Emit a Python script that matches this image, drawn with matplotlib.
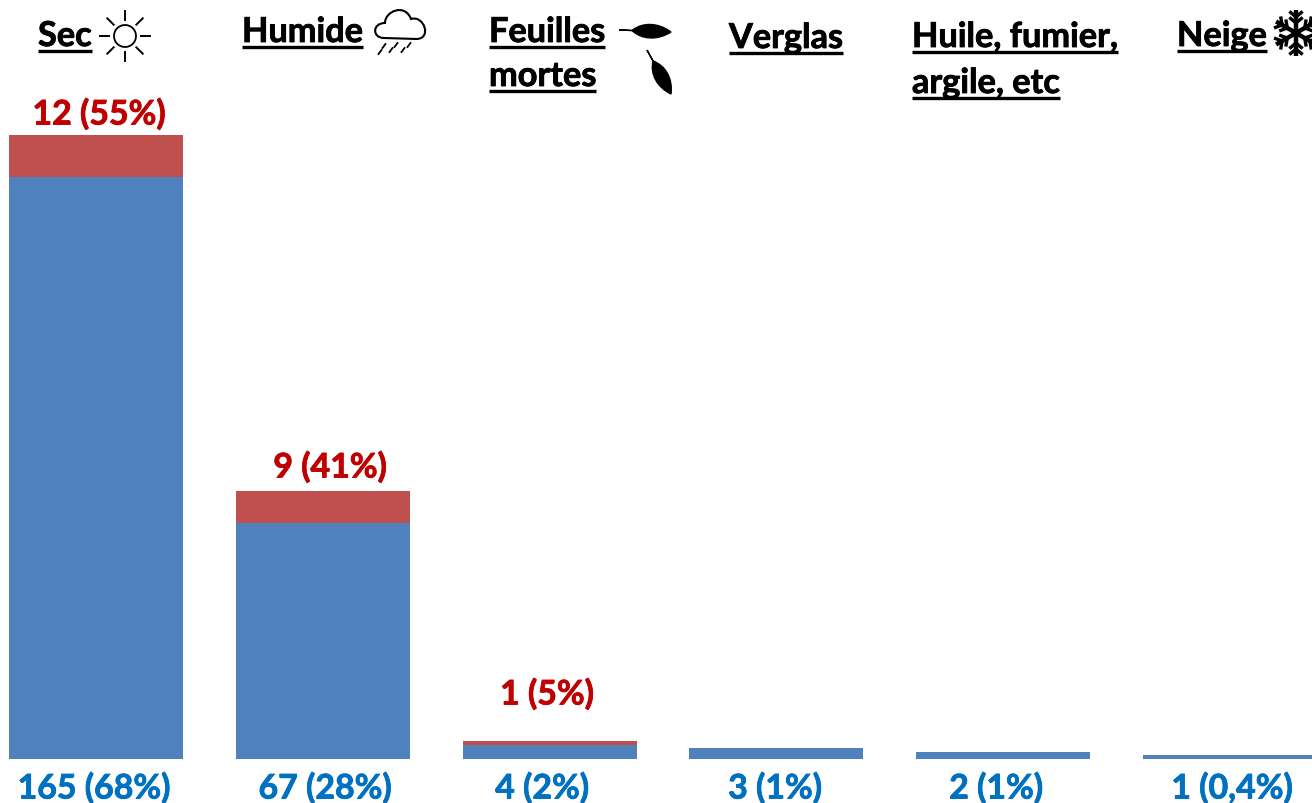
import numpy as np
import matplotlib
matplotlib.use('Agg')
import matplotlib.pyplot as plt
import matplotlib.patheffects as pe
from matplotlib.path import Path
from matplotlib.patches import PathPatch, Circle

categories = ['Sec', 'Humide', 'Feuilles\nmortes', 'Verglas', 'Huile, fumier,\nargile, etc', 'Neige']
blue_values = [165, 67, 4, 3, 2, 1]
red_values = [12, 9, 1, 0, 0, 0]
blue_labels = ['165 (68%)', '67 (28%)', '4 (2%)', '3 (1%)', '2 (1%)', '1 (0,4%)']
red_labels = ['12 (55%)', '9 (41%)', '1 (5%)', '', '', '']

BLUE = '#4f81bd'
RED = '#c0504d'
BLUE_TXT = '#0070c0'
RED_TXT = '#c00000'
FONT = 'Lato'
FS_TITLE = 24.7
FS_LABEL = 24.4

W, H = 1312, 804
fig = plt.figure(figsize=(W / 100, H / 100), dpi=100)

# bars: data axes over the whole figure, baseline at pixel row 759
step = 226.8
unit = 3.525
ax = fig.add_axes([0, 0, 1, 1])
ax.set_xlim(-96 / step, (W - 96) / step)
ax.set_ylim(-(H - 760) / unit, 760 / unit)
ax.axis('off')
x = np.arange(len(categories))
ax.bar(x, blue_values, width=174 / step, color=BLUE, linewidth=0)
ax.bar(x, red_values, width=174 / step, bottom=blue_values, color=RED, linewidth=0)

# overlay in pixel coordinates for the text and the little icons
ov = fig.add_axes([0, 0, 1, 1], facecolor='none')
ov.set_xlim(0, W)
ov.set_ylim(H, 0)
ov.axis('off')


def bold(color):
    return [pe.withStroke(linewidth=0.6, foreground=color)]


def title(left, ys, lines):
    for y, line in zip(ys, lines):
        t = ov.text(left, y, line, family=FONT, weight='bold', fontsize=FS_TITLE, color='black',
                    ha='left', va='baseline', path_effects=bold('black'))
        bb = t.get_window_extent(fig.canvas.get_renderer())
        ov.plot([bb.x0, bb.x1], [y + 5, y + 5], color='black', lw=2.4, solid_capstyle='butt')


title(38, [47], ['Sec'])
title(242, [43], ['Humide'])
title(489, [43, 87], ['Feuilles', 'mortes'])
title(729, [49], ['Verglas'])
title(912, [48, 94], ['Huile, fumier,', 'argile, etc'])
title(1177, [47], ['Neige'])

blue_x = [94, 325, 542, 775, 996, 1232]
for i in range(len(categories)):
    ov.text(blue_x[i], 799.5, blue_labels[i], family=FONT, weight='bold',
            fontsize=FS_LABEL, color=BLUE_TXT, ha='center', va='baseline', path_effects=bold(BLUE_TXT))

red_y = [125.5, 478.5, 705.5]
red_x = [99, 330, 547]
for i in range(3):
    ov.text(red_x[i], red_y[i], red_labels[i], family=FONT, weight='bold', fontsize=FS_LABEL,
            color=RED_TXT, ha='center', va='baseline', path_effects=bold(RED_TXT))

# sun
ov.add_patch(Circle((125, 37), 11, fill=False, ec='black', lw=1.3))
for a in np.deg2rad(np.arange(0, 360, 45)):
    ov.plot([125 + 16 * np.cos(a), 125 + 25 * np.cos(a)], [37 + 16 * np.sin(a), 37 + 25 * np.sin(a)],
            color='black', lw=1.4)

# cloud
cloud = Path([(384, 39), (372, 39), (372, 24), (385, 24), (385, 12), (405, 4), (411, 20),
              (424, 16), (432, 39), (417, 40), (384, 39)],
             [Path.MOVETO, Path.CURVE4, Path.CURVE4, Path.CURVE4, Path.CURVE4, Path.CURVE4, Path.CURVE4,
              Path.CURVE4, Path.CURVE4, Path.CURVE4, Path.LINETO])
ov.add_patch(PathPatch(cloud, fill=False, ec='black', lw=1.5))
for rx, ry in [(380, 53), (391, 51), (403, 51), (384, 47), (396, 46), (409, 46)]:
    ov.plot([rx - 1.5, rx + 1.5], [ry + 2, ry - 2], color='black', lw=1.3)


def leaf(x0, y0, x1, y1, wid):
    # leaf shape between stem start and tip
    d = np.array([x1 - x0, y1 - y0], float)
    n = np.array([-d[1], d[0]]) / np.hypot(*d) * wid
    a = np.array([x0, y0]) + d * 0.25
    t = np.array([x1, y1])
    p = Path([(x0, y0), a, a + d * 0.2 + n, a + d * 0.5 + n, t, a + d * 0.5 - n, a + d * 0.2 - n, a, (x0, y0)],
             [Path.MOVETO, Path.LINETO, Path.CURVE4, Path.CURVE4, Path.CURVE4, Path.CURVE4, Path.CURVE4,
              Path.CURVE4, Path.LINETO])
    ov.add_patch(PathPatch(p, fc='black', ec='black', lw=1))


leaf(619, 31, 671, 33, 9)
leaf(647, 51, 671, 95, 9)

# snowflake, cut by the right edge
cx, cy = 1296, 34
for a in np.deg2rad(np.arange(0, 360, 60) + 30):
    ux, uy = np.cos(a), np.sin(a)
    ov.plot([cx, cx + 23 * ux], [cy, cy + 23 * uy], color='black', lw=3.2, solid_capstyle='butt')
    for r in (10, 16):
        for s in (-50, 50):
            b = a + np.deg2rad(s)
            ov.plot([cx + r * ux, cx + r * ux + 7 * np.cos(b)], [cy + r * uy, cy + r * uy + 7 * np.sin(b)],
                    color='black', lw=2.4)
ov.set_xlim(0, W)
ov.set_ylim(H, 0)

fig.savefig('out.png', dpi=100)
